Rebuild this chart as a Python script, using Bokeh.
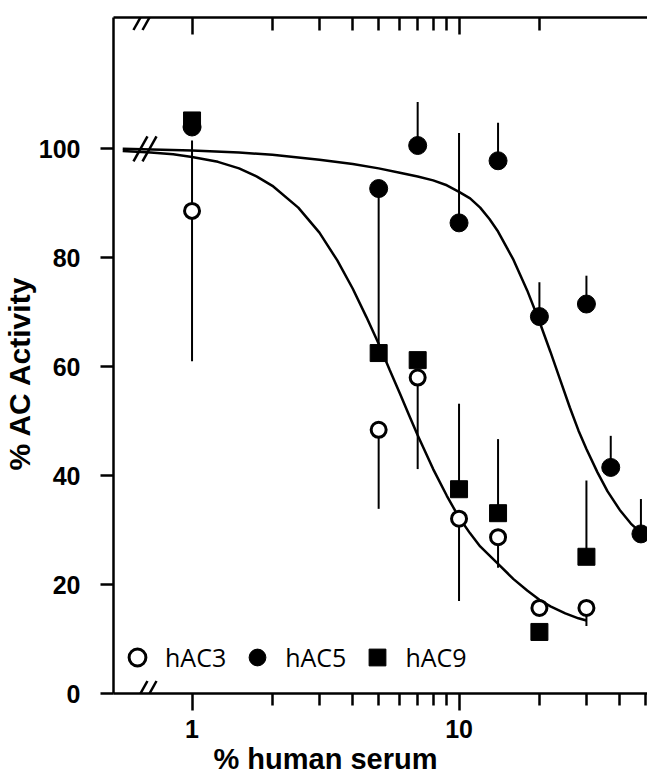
from bokeh.plotting import figure
from bokeh.models import (Range1d, LogAxis, FixedTicker, Arrow, Legend, BasicTickFormatter, Title)
from bokeh.embed import file_html
from bokeh.resources import INLINE

# ---- data ----
conc3 = [1, 5, 7, 10, 14, 20, 30]
hac3 = [88.6, 48.4, 58.0, 32.1, 28.7, 15.7, 15.7]
hac3_lo = [61.0, 33.9, 41.2, 17.0, 23.1, 15.7, 12.4]
hac3_hi = [101.5, 48.4, 58.0, 32.1, 28.7, 15.7, 15.7]

conc5 = [1, 5, 7, 10, 14, 20, 30, 37, 48]
hac5 = [104.0, 92.7, 100.6, 86.4, 97.8, 69.2, 71.5, 41.5, 29.3]
hac5_hi = [104.0, 92.7, 108.6, 102.9, 104.8, 75.5, 76.7, 47.3, 35.7]

conc9 = [1, 5, 7, 10, 14, 20, 30]
hac9 = [105.2, 62.5, 61.2, 37.5, 33.1, 11.3, 25.1]
hac9_hi = [105.2, 92.6, 61.2, 53.2, 46.7, 11.3, 39.1]

# fitted curves
fit3_x = [0.55, 0.7, 0.85, 1, 1.25, 1.5, 1.75, 2, 2.5, 3, 3.5, 4, 4.5, 5, 5.5, 6, 6.5, 7,
          8, 9, 10, 11, 12, 14, 16, 18, 20, 22, 25, 28, 30]
fit3_y = [99.6, 99.3, 99.0, 98.5, 97.6, 96.4, 94.9, 93.2, 89.2, 84.6, 79.5, 74.3, 69.1, 64.2,
          59.4, 55.1, 51.1, 47.4, 41.2, 36.3, 32.3, 29.4, 27.0, 23.8, 21.0, 18.9, 17.2, 16.0,
          14.7, 13.8, 13.4]
fit5_x = [0.55, 1, 1.5, 2, 3, 4, 5, 6, 7, 8, 9, 10, 11, 12, 13, 14, 16, 18, 20, 22, 24, 26,
          28, 30, 33, 36, 40, 44, 48, 52]
fit5_y = [100.0, 99.7, 99.3, 98.9, 98.0, 97.2, 96.4, 95.6, 94.9, 94.2, 93.3, 92.1, 90.9, 89.2,
          87.1, 84.8, 79.6, 74.0, 68.3, 62.7, 57.4, 52.5, 48.3, 44.9, 40.6, 37.1, 33.7, 31.2,
          29.5, 28.4]

x_ticks = [1, 10]
x_minor = [2, 3, 4, 5, 6, 7, 8, 9, 20, 30, 40, 50]
top_minor = [2, 3, 4, 5, 6, 7, 8, 9, 20]
y_ticks = [0, 20, 40, 60, 80, 100]

BREAK_X = [0.641, 0.693]
BREAK_Y = [0, 100, 124.1]

p = figure(width=647, height=779, x_axis_type="log",
           x_range=Range1d(0.508, 50.8), y_range=Range1d(0, 124.1),
           output_backend="svg", toolbar_location=None,
           min_border_left=113, min_border_right=0, min_border_top=17, min_border_bottom=86)
p.outline_line_color = None
p.grid.visible = False
p.background_fill_color = "white"
p.border_fill_color = "white"

TICK_FONT = "Liberation Sans"

xa = p.below[0]
xa.ticker = FixedTicker(ticks=x_ticks, minor_ticks=x_minor)
xa.formatter = BasicTickFormatter()
xa.axis_line_width = 2.5
xa.axis_line_color = "black"
xa.major_tick_line_width = 2.5
xa.minor_tick_line_width = 2.5
xa.major_tick_out = 17
xa.major_tick_in = 0
xa.minor_tick_out = 12
xa.minor_tick_in = 0
xa.major_label_standoff = 9
xa.major_label_text_font = TICK_FONT
xa.major_label_text_font_style = "bold"
xa.major_label_text_font_size = "25px"
xa.major_label_text_color = "black"

ya = p.left[0]
ya.ticker = FixedTicker(ticks=y_ticks, minor_ticks=[])
ya.axis_line_width = 2.5
ya.axis_line_color = "black"
ya.major_tick_line_width = 2.5
ya.major_tick_out = 13
ya.major_tick_in = 0
ya.major_label_standoff = 20
ya.major_label_text_font = TICK_FONT
ya.major_label_text_font_style = "bold"
ya.major_label_text_font_size = "25px"
ya.major_label_text_color = "black"

top = LogAxis(ticker=FixedTicker(ticks=x_ticks, minor_ticks=top_minor),
              formatter=BasicTickFormatter(),
              major_label_text_font_size="8px", major_label_text_alpha=0,
              major_label_standoff=0,
              major_tick_in=17, major_tick_out=0, minor_tick_in=13, minor_tick_out=0,
              axis_line_width=2.5, major_tick_line_width=2.5, minor_tick_line_width=2.5)
p.add_layout(top, "above")

# axis titles as side-panel titles (stacked outside the axes)
p.add_layout(Title(text="% human serum", align="left", offset=100, standoff=4,
                   vertical_align="top", text_font=TICK_FONT, text_font_style="bold",
                   text_font_size="29px", text_color="black"), "below")
p.add_layout(Title(text="% AC Activity", align="left", offset=223, standoff=0,
                   vertical_align="bottom", text_font=TICK_FONT, text_font_style="bold",
                   text_font_size="30px", text_color="black"), "left")

# error bars
p.segment(x0=conc3, y0=hac3_lo, x1=conc3, y1=hac3_hi, line_color="black", line_width=2)
p.segment(x0=conc5, y0=hac5, x1=conc5, y1=hac5_hi, line_color="black", line_width=2)
p.segment(x0=conc9, y0=hac9, x1=conc9, y1=hac9_hi, line_color="black", line_width=2)

# fitted curves
p.line(fit3_x, fit3_y, line_color="black", line_width=2.5)
p.line(fit5_x, fit5_y, line_color="black", line_width=2.5)

r9 = p.scatter(conc9, hac9, marker="square", size=17, fill_color="black", line_color="black")
r5 = p.scatter(conc5, hac5, marker="circle", size=18, fill_color="black", line_color="black")
r3 = p.scatter(conc3, hac3, marker="circle", size=15, fill_color="white", line_color="black",
               line_width=3)

# axis-break marks
f = 10 ** (7 / 267)
dy = 12.5 / 5.444
for by in BREAK_Y:
    for bx in BREAK_X:
        p.add_layout(Arrow(start=None, end=None, x_start=bx / f, y_start=by - dy,
                           x_end=bx * f, y_end=by + dy, line_width=2.5, line_color="black"))

legend = Legend(items=[("hAC3", [r3]), ("hAC5", [r5]), ("hAC9", [r9])],
                orientation="horizontal", location=(3, 15))
legend.label_text_font = "Open Sans"
legend.label_text_font_size = "25px"
legend.label_text_color = "black"
legend.label_standoff = 7
legend.spacing = 10
legend.glyph_width = 42
legend.glyph_height = 42
legend.label_height = 42
legend.padding = 0
legend.margin = 0
legend.border_line_color = None
legend.background_fill_alpha = 0
p.add_layout(legend)

open("out.html", "w").write(file_html(p, INLINE))
